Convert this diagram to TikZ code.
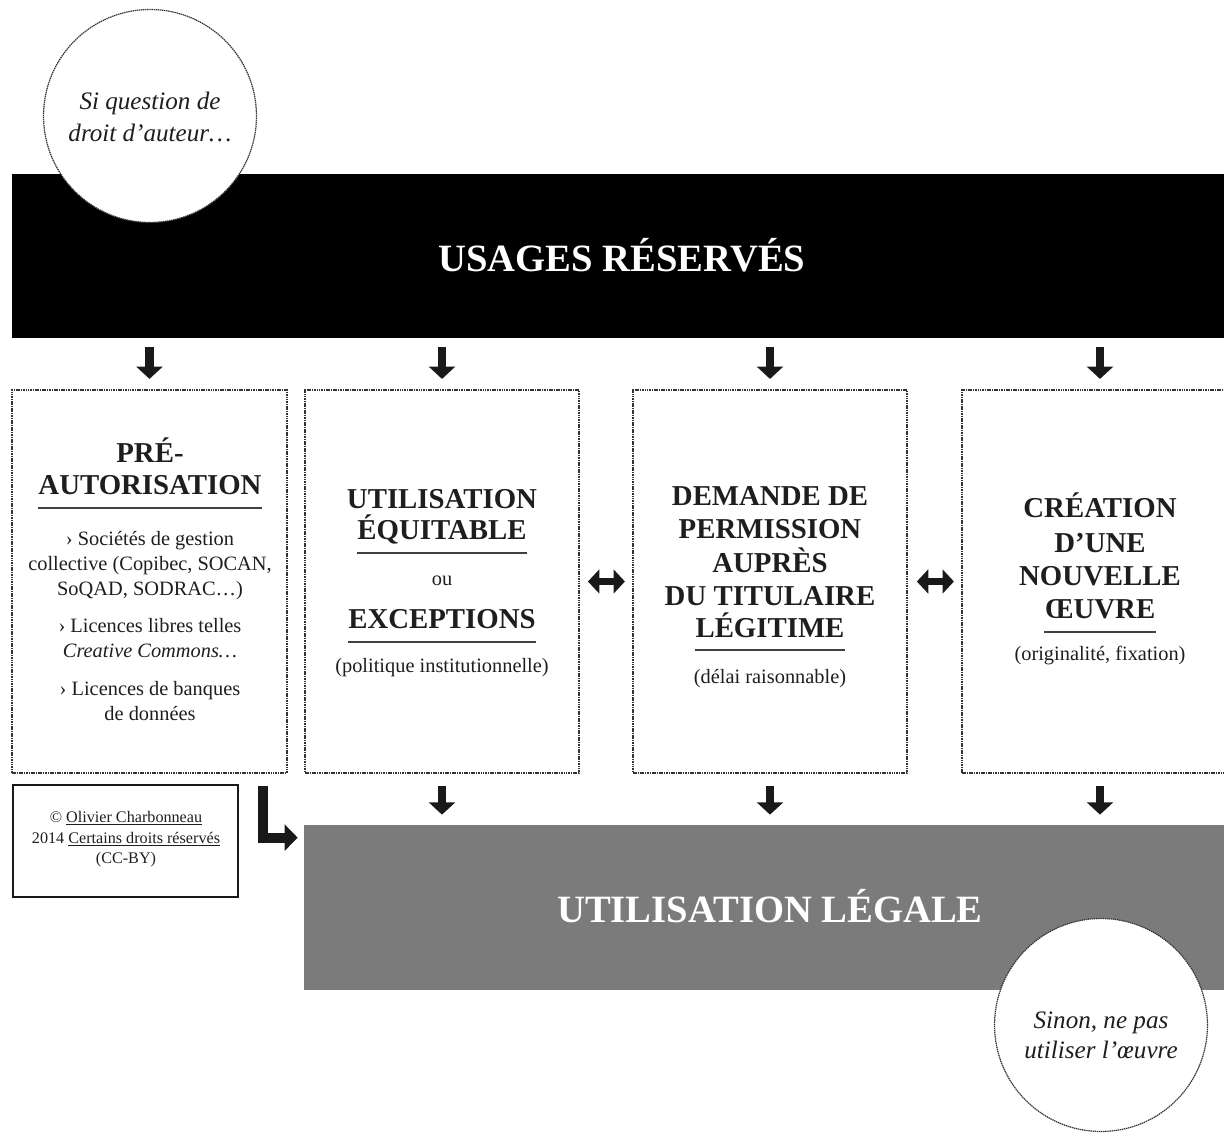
\documentclass[tikz,border=0pt]{standalone}
\usepackage{fontspec}
\setmainfont{Liberation Serif}
\usetikzlibrary{arrows.meta,fit,calc}
\definecolor{txt}{HTML}{1E1E1E}
\definecolor{graybar}{HTML}{7B7B7B}
\newcommand{\hdfont}{\fontsize{16.4}{18.7}\selectfont\bfseries}
\newcommand{\smfont}{\fontsize{11.6}{14.2}\selectfont}
\newcommand{\bigfont}{\fontsize{22}{26}\selectfont\bfseries}
\newcommand{\circfont}{\fontsize{14.3}{18}\selectfont\itshape}
\newcommand{\cpfont}{\fontsize{9.2}{12}\selectfont}
\tikzset{
  dotbox/.style={draw=black!80, line width=1.2pt, dash pattern=on 0.9pt off 0.45pt, inner sep=0pt},
  dotcirc/.style={circle, draw=black!80, fill=white, line width=0.7pt, dash pattern=on 0.8pt off 0.4pt, inner sep=0pt, minimum size=4.26cm},
  hd/.style={font=\hdfont, anchor=base, inner sep=0pt, text=txt},
  sm/.style={font=\smfont, anchor=base, inner sep=0pt, text=txt},
  big/.style={font=\bigfont, anchor=base, inner sep=0pt, text=white},
  ct/.style={font=\circfont, anchor=base, inner sep=0pt, text=txt},
  cp/.style={font=\cpfont, anchor=base, inner sep=0pt, text=txt},
  ul/.style={draw=black!75, line width=1.6pt},
  downarr/.style={draw=black!90, line width=5.1pt, -{Triangle[width=14.7pt,length=7pt]}},
  dblarr/.style={draw=black!90, line width=4.5pt, {Triangle[width=13.5pt,length=6.5pt]}-{Triangle[width=13.5pt,length=6.5pt]}},
  larr/.style={draw=black!90, line width=5.7pt, line join=miter, -{Triangle[width=14.7pt,length=7.4pt]}},
}
\begin{document}
\begin{tikzpicture}[x=0.02cm, y=-0.02cm]
\useasboundingbox (0,0) rectangle (1224,1138);

% top bar
\node[fill=black, inner sep=0pt, fit={(12,174) (1232,338)}] (usages) {};
\node[big] (usagesT) at (622,272) {USAGES RÉSERVÉS};

% top circle
\node[dotcirc] (c1) at (150,116) {};
\node[ct] (c1a) at (150,110) {Si question de};
\node[ct] (c1b) at (150,142) {droit d’auteur…};

% boxes
\node[dotbox, fit={(12,390) (287,773)}] (box1) {};
\node[dotbox, fit={(305,390) (579,773)}] (box2) {};
\node[dotbox, fit={(633,390) (907,773)}] (box3) {};
\node[dotbox, fit={(962,390) (1238,773)}] (box4) {};

% box 1 text
\node[hd] (b1a) at (150,462) {PRÉ-};
\node[hd] (b1b) at (150,495) {AUTORISATION};
\draw[ul] ($(b1b.base west)+(0,13)$) -- ($(b1b.base east)+(0,13)$);
\node[sm] (b1c) at (150,545) {› Sociétés de gestion};
\node[sm] (b1d) at (150,570) {collective (Copibec, SOCAN,};
\node[sm] (b1e) at (150,595) {SoQAD, SODRAC…)};
\node[sm] (b1f) at (150,632) {› Licences libres telles};
\node[sm] (b1g) at (150,657) {\itshape Creative Commons…};
\node[sm] (b1h) at (150,695) {› Licences de banques};
\node[sm] (b1i) at (150,720) {de données};

% box 2 text
\node[hd] (b2a) at (442,508) {UTILISATION};
\node[hd] (b2b) at (442,539) {ÉQUITABLE};
\draw[ul] ($(b2b.base west)+(0,14)$) -- ($(b2b.base east)+(0,14)$);
\node[sm] (b2c) at (442,585) {ou};
\node[hd] (b2d) at (442,628) {EXCEPTIONS};
\draw[ul] ($(b2d.base west)+(0,14)$) -- ($(b2d.base east)+(0,14)$);
\node[sm] (b2e) at (442,672) {(politique institutionnelle)};

% box 3 text
\node[hd] (b3a) at (770,505) {DEMANDE DE};
\node[hd] (b3b) at (770,538) {PERMISSION};
\node[hd] (b3c) at (770,572) {AUPRÈS};
\node[hd] (b3d) at (770,605) {DU TITULAIRE};
\node[hd] (b3e) at (770,637) {LÉGITIME};
\draw[ul] ($(b3e.base west)+(0,13)$) -- ($(b3e.base east)+(0,13)$);
\node[sm] (b3f) at (770,683) {(délai raisonnable)};

% box 4 text
\node[hd] (b4a) at (1100,517) {CRÉATION};
\node[hd] (b4b) at (1100,552) {D’UNE};
\node[hd] (b4c) at (1100,585) {NOUVELLE};
\node[hd] (b4d) at (1100,618) {ŒUVRE};
\draw[ul] ($(b4d.base west)+(0,14)$) -- ($(b4d.base east)+(0,14)$);
\node[sm] (b4e) at (1100,660) {(originalité, fixation)};

% gray bar
\node[fill=graybar, inner sep=0pt, fit={(304,825) (1236,990)}] (legal) {};
\node[big] (legalT) at (770,922) {UTILISATION LÉGALE};

% bottom circle
\node[dotcirc] (c2) at (1101,1025) {};
\node[ct] (c2a) at (1101,1028) {Sinon, ne pas};
\node[ct] (c2b) at (1101,1058) {utiliser l’œuvre};

% copyright box
\node[draw=black!90, line width=1.1pt, inner sep=0pt, fit={(13,785) (238,897)}] (copy) {};
\node[cp] (cpa) at (126,822) {© \underline{Olivier Charbonneau}};
\node[cp] (cpb) at (126,843) {2014 \underline{Certains droits réservés}};
\node[cp] (cpc) at (126,863) {(CC-BY)};

% top arrows
\foreach \b in {box1,box2,box3,box4}{
  \draw[downarr, shorten <=5.1pt, shorten >=5.7pt] (usages.south -| \b.north) -- (\b.north);
}
% bottom arrows
\foreach \b in {box2,box3,box4}{
  \draw[downarr, shorten <=6.8pt, shorten >=5.7pt] (\b.south) -- (\b.south |- legal.north);
}
% double arrows
\draw[dblarr, shorten <=4.5pt, shorten >=4pt] (box2.east) -- (box3.west);
\draw[dblarr, shorten <=5pt, shorten >=4pt] (box3.east) -- (box4.west);

% L arrow
\coordinate (lstart) at ($(box1.south east)+(-25,12)$);
\coordinate (lend) at ($(legal.north west)+(-6,13)$);
\draw[larr] (lstart) |- (lend);
\end{tikzpicture}
\end{document}
